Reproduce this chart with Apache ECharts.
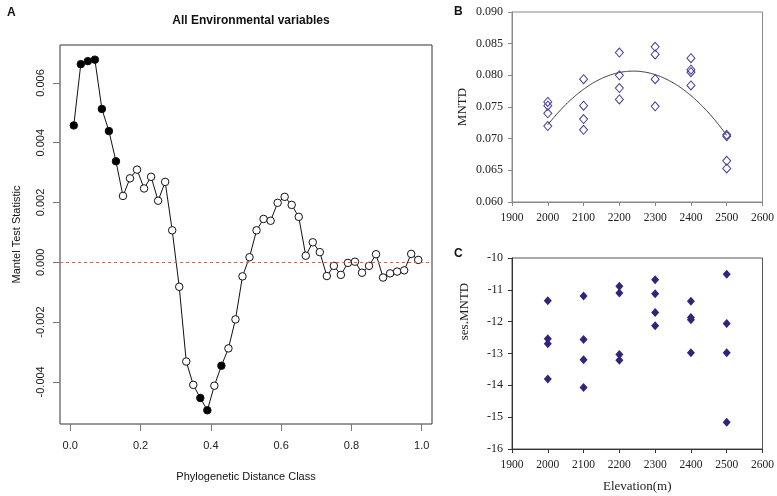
<!DOCTYPE html>
<html>
<head>
<meta charset="utf-8">
<script src="https://cdn.jsdelivr.net/npm/echarts@6/dist/echarts.min.js"></script>
<style>
html,body{margin:0;padding:0;background:#fff;}
#chart{width:777px;height:496px;}
</style>
</head>
<body>
<div id="chart"></div>
<script>
// ---------- Panel A data ----------
var distClass = [0.01,0.03,0.05,0.07,0.09,0.11,0.13,0.15,0.17,0.19,
                 0.21,0.23,0.25,0.27,0.29,0.31,0.33,0.35,0.37,0.39,
                 0.41,0.43,0.45,0.47,0.49,0.51,0.53,0.55,0.57,0.59,
                 0.61,0.63,0.65,0.67,0.69,0.71,0.73,0.75,0.77,0.79,
                 0.81,0.83,0.85,0.87,0.89,0.91,0.93,0.95,0.97,0.99];
var mantelStat = [0.00458,0.00663,0.00673,0.00678,0.00513,0.00439,0.00338,0.00222,0.00281,0.00310,
                  0.00247,0.00286,0.00206,0.00269,0.00107,-0.00082,-0.00332,-0.00410,-0.00454,-0.00495,
                  -0.00413,-0.00346,-0.00288,-0.00191,-0.00047,0.00017,0.00107,0.00145,0.00139,0.00199,
                  0.00219,0.00192,0.00152,0.00022,0.00067,0.00034,-0.00046,-0.00012,-0.00042,-0.00002,
                  0.00002,-0.00035,-0.00012,0.00027,-0.00051,-0.00037,-0.00031,-0.00027,0.00028,0.00008];
var significant = [1,1,1,1,1,1,1,0,0,0, 0,0,0,0,0,0,0,0,1,1, 0,1,0,0,0,0,0,0,0,0,
                   0,0,0,0,0,0,0,0,0,0, 0,0,0,0,0,0,0,0,0,0];
var xTicksA = [0.0,0.2,0.4,0.6,0.8,1.0];
var yTicksA = [-0.004,-0.002,0.000,0.002,0.004,0.006];

// ---------- Panels B & C data ----------
var elevation = [2000,2000,2000,2000, 2100,2100,2100,2100, 2200,2200,2200,2200,
                 2300,2300,2300,2300, 2400,2400,2400,2400, 2500,2500,2500,2500];
var mntd = [0.0758,0.0752,0.0740,0.0720, 0.0794,0.0752,0.0731,0.0714, 0.0836,0.0800,0.0780,0.0762,
            0.0845,0.0833,0.0794,0.0751, 0.0827,0.0809,0.0805,0.0784, 0.0706,0.0704,0.0665,0.0653];
var sesMntd = [-11.34,-12.54,-12.69,-13.80, -11.19,-12.56,-13.20,-14.07, -10.89,-11.10,-13.03,-13.21,
               -10.68,-11.12,-11.71,-12.13, -11.36,-11.87,-11.94,-12.98, -10.51,-12.06,-12.98,-15.16];

// quadratic least-squares trendline of MNTD on elevation (as in the original figure)
function quadFit(xs, ys){
  var n=xs.length, x0=2250, s=[0,0,0,0,0], t=[0,0,0];
  for(var i=0;i<n;i++){
    var u=(xs[i]-x0)/100, p=1;
    for(var k=0;k<5;k++){ s[k]+=p; if(k<3) t[k]+=p*ys[i]; p*=u; }
  }
  var M=[[s[0],s[1],s[2],t[0]],[s[1],s[2],s[3],t[1]],[s[2],s[3],s[4],t[2]]];
  for(var c=0;c<3;c++){
    for(var r=c+1;r<3;r++){
      var f=M[r][c]/M[c][c];
      for(var j=c;j<4;j++) M[r][j]-=f*M[c][j];
    }
  }
  var b=[0,0,0];
  for(var r2=2;r2>=0;r2--){
    var v=M[r2][3];
    for(var j2=r2+1;j2<3;j2++) v-=M[r2][j2]*b[j2];
    b[r2]=v/M[r2][r2];
  }
  return function(x){ var u=(x-x0)/100; return b[0]+b[1]*u+b[2]*u*u; };
}
var fit = quadFit(elevation, mntd);
var fitLine = [];
for (var e = 2000; e <= 2500; e += 10) fitLine.push([e, fit(e)]);

var sansF = '"Liberation Sans", Arial, sans-serif';
var serifF = '"Liberation Serif", "Times New Roman", serif';
var plain = function(v){ return String(Math.round(v)); };

var aData = distClass.map(function(x,i){
  return {value:[x, mantelStat[i]], itemStyle:{color: significant[i] ? '#000' : '#fff'}};
});

var chart = echarts.init(document.getElementById('chart'), null, {renderer:'canvas'});
var option = {
  animation:false,
  backgroundColor:'#fff',
  title:[
    {text:'All Environmental variables', left:246, top:10, textAlign:'center',
     textStyle:{fontFamily:sansF, fontSize:12, fontWeight:'bold', color:'#111'}},
    {text:'A', left:2, top:2, textStyle:{fontFamily:sansF, fontSize:12, fontWeight:'bold', color:'#111'}},
    {text:'B', left:449, top:1, textStyle:{fontFamily:sansF, fontSize:12, fontWeight:'bold', color:'#111'}},
    {text:'C', left:449, top:243, textStyle:{fontFamily:sansF, fontSize:12, fontWeight:'bold', color:'#111'}}
  ],
  graphic:[
    {type:'text', x:465, y:311.5, rotation:Math.PI/2,
     style:{text:'ses.MNTD', font:'13px '+serifF, fill:'#222', textAlign:'center', textVerticalAlign:'middle'}}
  ],
  grid:[
    {left:60, top:45, width:372, height:379, show:true, borderColor:'#333', borderWidth:1, backgroundColor:'transparent'},
    {left:512, top:12, width:251, height:190, show:true, borderColor:'#8a8a8a', borderWidth:1, backgroundColor:'transparent'},
    {left:512, top:258, width:251, height:191, show:true, borderColor:'#555', borderWidth:1, backgroundColor:'transparent'}
  ],
  xAxis:[
    {gridIndex:0, type:'value', min:-0.0292, max:1.0292,
     axisLine:{show:false, onZero:false}, splitLine:{show:false},
     axisTick:{show:true, customValues:xTicksA, length:7, lineStyle:{color:'#777'}},
     axisLabel:{customValues:xTicksA, formatter:function(v){return v.toFixed(1);}, margin:16,
                fontFamily:sansF, fontSize:11, color:'#222'},
     name:'Phylogenetic Distance Class', nameLocation:'middle', nameGap:47,
     nameTextStyle:{fontFamily:sansF, fontSize:11, color:'#111'}},
    {gridIndex:1, type:'value', min:1900, max:2600, interval:100,
     axisLine:{show:true, onZero:false, lineStyle:{color:'#888'}}, splitLine:{show:false},
     axisTick:{show:true, length:4, lineStyle:{color:'#888'}},
     axisLabel:{formatter:plain, margin:10, fontFamily:serifF, fontSize:11.5, color:'#222'}},
    {gridIndex:2, type:'value', min:1900, max:2600, interval:100,
     axisLine:{show:true, onZero:false, lineStyle:{color:'#333'}}, splitLine:{show:false},
     axisTick:{show:true, length:4, lineStyle:{color:'#333'}},
     axisLabel:{formatter:plain, margin:10, fontFamily:serifF, fontSize:11.5, color:'#222'},
     name:'Elevation(m)', nameLocation:'middle', nameGap:31,
     nameTextStyle:{fontFamily:serifF, fontSize:13, color:'#222'}}
  ],
  yAxis:[
    {gridIndex:0, type:'value', min:-0.00541, max:0.00727,
     axisLine:{show:false, onZero:false}, splitLine:{show:false},
     axisTick:{show:true, customValues:yTicksA, length:7, lineStyle:{color:'#777'}},
     axisLabel:{customValues:yTicksA, formatter:function(v){return v.toFixed(3);}, rotate:90, margin:14,
                fontFamily:sansF, fontSize:11, color:'#222', align:'center', verticalAlign:'bottom'},
     name:'Mantel Test Statistic', nameLocation:'middle', nameGap:38,
     nameTextStyle:{fontFamily:sansF, fontSize:11, color:'#111'}},
    {gridIndex:1, type:'value', min:0.060, max:0.090, interval:0.005,
     axisLine:{show:true, onZero:false, lineStyle:{color:'#888'}}, splitLine:{show:false},
     axisTick:{show:true, length:4, lineStyle:{color:'#888'}},
     axisLabel:{formatter:function(v){return v.toFixed(3);}, margin:9, fontFamily:serifF, fontSize:12, color:'#222'},
     name:'MNTD', nameLocation:'middle', nameGap:43,
     nameTextStyle:{fontFamily:serifF, fontSize:13, color:'#222'}},
    {gridIndex:2, type:'value', min:-16, max:-10, interval:1,
     axisLine:{show:true, onZero:false, lineStyle:{color:'#333'}}, splitLine:{show:false},
     axisTick:{show:true, length:4, lineStyle:{color:'#333'}},
     axisLabel:{margin:9, fontFamily:serifF, fontSize:12, color:'#222'}}
  ],
  series:[
    {type:'line', xAxisIndex:0, yAxisIndex:0, data:aData,
     symbol:'circle', symbolSize:7.5, showAllSymbol:true,
     lineStyle:{color:'#111', width:1},
     itemStyle:{borderColor:'#111', borderWidth:1},
     markLine:{silent:true, symbol:['none','none'], label:{show:false},
       lineStyle:{color:'#e05a5a', type:[3,3], width:1},
       data:[{yAxis:0}]},
     z:3},
    {type:'line', xAxisIndex:1, yAxisIndex:1, data:fitLine, smooth:true, symbol:'none',
     lineStyle:{color:'#333', width:1}, z:2},
    {type:'scatter', xAxisIndex:1, yAxisIndex:1,
     data:elevation.map(function(x,i){return [x, mntd[i]];}),
     symbol:'diamond', symbolSize:[8,9],
     itemStyle:{color:'rgba(255,255,255,0)', borderColor:'#4a3d9c', borderWidth:1, opacity:1}, z:3},
    {type:'scatter', xAxisIndex:2, yAxisIndex:2,
     data:elevation.map(function(x,i){return [x, sesMntd[i]];}),
     symbol:'diamond', symbolSize:[8,9],
     itemStyle:{color:'#33237a', opacity:1}, z:3}
  ]
};
chart.setOption(option);
</script>
</body>
</html>
